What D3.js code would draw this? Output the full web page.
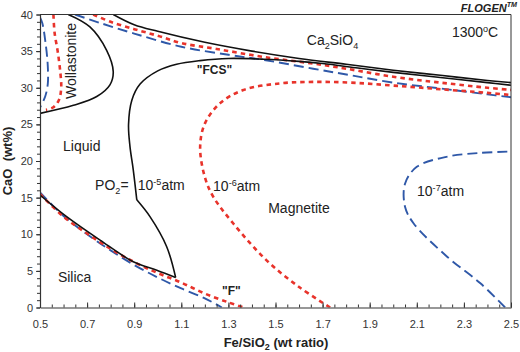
<!DOCTYPE html>
<html><head><meta charset="utf-8">
<script src="https://cdn.jsdelivr.net/npm/d3@7"></script>
<style>
body{margin:0;background:#fff}
text{font-family:"Liberation Sans",Arial,Helvetica,sans-serif}
</style>
</head><body>
<svg id="chart" width="520" height="352"></svg>
<script>
// ---------- data ----------
const xTickValues = [0.5,0.7,0.9,1.1,1.3,1.5,1.7,1.9,2.1,2.3,2.5];
const yTickValues = [0,5,10,15,20,25,30,35,40];

// black solid: PO2 = 1e-5 atm
const wollastoniteBlack = [[0.62,40],[0.712,38.3],[0.783,35.1],[0.811,32.2],[0.797,30.4],[0.741,28.8],[0.642,27.6],[0.5,26.5]];
const ca2sio4Black = [[0.811,40],[0.9,38.6],[1.0,37.7],[1.2,36.2],[1.4,35.0],[1.6,34.0],[1.8,33.2],[2.0,32.4],[2.2,31.7],[2.4,31.0],[2.5,30.7]];
const fcsBlackUpper = [[0.911,14.7],[0.896,18.8],[0.882,22],[0.876,25],[0.89,28.3],[0.925,30.5],[1.0,32.3],[1.08,33.2],[1.18,33.7],[1.3,34.0],[1.45,33.9],[1.6,33.6],[1.7,33.3],[1.85,32.7],[2.0,32.1],[2.2,31.4],[2.4,30.7],[2.5,30.35]];
const fcsBlackLower = [[1.076,4.1],[1.038,8.3],[0.967,12.4],[0.911,14.7]];
const silicaBlack = [[0.5,15.35],[0.613,12.4],[0.755,9.2],[0.896,6.25],[0.996,5.1],[1.076,4.1]];

// red dotted: PO2 = 1e-6 atm
const wollastoniteRed = [[0.557,40],[0.562,37.5],[0.575,35],[0.585,32.5],[0.59,30],[0.58,28.3],[0.555,27.3],[0.525,27.0]];
const ca2sio4Red = [[0.726,40],[0.8,39.0],[0.9,38.0],[1.0,37.1],[1.1,36.1],[1.25,35.3],[1.45,34.2],[1.66,33.3],[1.8,32.6],[2.0,31.5],[2.2,30.7],[2.4,30.0],[2.5,29.7]];
const silicaRed = [[0.5,15.5],[0.6,12.4],[0.7,10.1],[0.8,8.0],[0.9,6.2],[1.0,4.7],[1.1,3.4],[1.2,1.9],[1.3,0.7],[1.365,0]];
const magnetiteRed = [[1.732,0],[1.6,2.8],[1.46,6.5],[1.32,11.5],[1.236,15.1],[1.2,17.8],[1.18,21.9],[1.2,25.1],[1.265,27.9],[1.364,29.7],[1.52,30.6],[1.66,30.8],[1.82,30.7],[2.0,30.3],[2.2,29.8],[2.4,29.3],[2.5,29.0]];

// blue dashed: PO2 = 1e-7 atm
const wollastoniteBlue = [[0.5,39.6],[0.51,38.8],[0.524,36],[0.533,33],[0.533,30.5],[0.522,28.8],[0.5,27.3]];
const ca2sio4Blue = [[0.649,40],[0.75,38.9],[0.9,37.4],[1.1,35.6],[1.3,34.5],[1.45,33.8],[1.66,32.6],[1.82,31.7],[2.0,30.7],[2.2,29.9],[2.4,29.1],[2.5,28.7]];
const silicaBlue = [[0.5,15.7],[0.6,12.5],[0.7,10.0],[0.8,7.8],[0.9,5.8],[1.0,4.1],[1.1,2.6],[1.2,1.25],[1.272,0]];
const magnetiteBlue = [[2.475,0],[2.37,3.3],[2.23,6.9],[2.086,11.5],[2.05,13.75],[2.05,16.9],[2.1,19.2],[2.23,20.6],[2.37,21.1],[2.5,21.3]];

// ---------- chart ----------
const svg = d3.select("#chart");
const x = d3.scaleLinear().domain([0.5,2.5]).range([40,511]);
const y = d3.scaleLinear().domain([0,40]).range([307.5,14.5]);

svg.append("defs").append("clipPath").attr("id","plot")
  .append("rect").attr("x",40).attr("y",14.5).attr("width",471).attr("height",293);

const line = d3.line().x(d=>x(d[0])).y(d=>y(d[1])).curve(d3.curveCatmullRom.alpha(0.5));
const g = svg.append("g").attr("clip-path","url(#plot)");

const styles = {
  black:{stroke:"#111",width:1.6,dash:null},
  red:{stroke:"#e8332b",width:2.6,dash:"4.5,4"},
  blue:{stroke:"#2f58a8",width:1.9,dash:"10,5"}
};
function draw(data, st){
  const s = styles[st];
  g.append("path").datum(data).attr("d",line)
    .attr("fill","none").attr("stroke",s.stroke).attr("stroke-width",s.width)
    .attr("stroke-dasharray",s.dash).attr("stroke-linejoin","round");
}
[wollastoniteBlue, ca2sio4Blue, silicaBlue, magnetiteBlue].forEach(d=>draw(d,"blue"));
[wollastoniteRed, ca2sio4Red, silicaRed, magnetiteRed].forEach(d=>draw(d,"red"));
[wollastoniteBlack, ca2sio4Black, fcsBlackUpper, fcsBlackLower, silicaBlack].forEach(d=>draw(d,"black"));

// frame (top & right)
svg.append("line").attr("x1",40).attr("x2",511).attr("y1",14.5).attr("y2",14.5).attr("stroke","#333").attr("stroke-width",1);
svg.append("line").attr("x1",511).attr("x2",511).attr("y1",14.5).attr("y2",307.5).attr("stroke","#333").attr("stroke-width",1);

// axes
const xMinor = d3.range(0.5,2.5001,0.05);
const yMinor = d3.range(0,40.001,1);
svg.append("g").attr("transform","translate(0,307.5)")
  .call(d3.axisBottom(x).tickValues(xMinor).tickSize(-3).tickFormat(""))
  .call(a=>a.select(".domain").remove())
  .call(a=>a.selectAll("line").attr("stroke","#333"));
const xa = svg.append("g").attr("transform","translate(0,307.5)")
  .call(d3.axisBottom(x).tickValues(xTickValues).tickSizeInner(-5).tickSizeOuter(0).tickPadding(13).tickFormat(d3.format(".1f")));
xa.select(".domain").attr("stroke","#333").attr("stroke-width",1.2);
xa.selectAll("line").attr("stroke","#333");
xa.selectAll("text").attr("font-size",11).attr("fill","#333").attr("font-family","Liberation Sans, Arial, sans-serif");

svg.append("g").attr("transform","translate(40,0)")
  .call(d3.axisLeft(y).tickValues(yMinor).tickSize(3).tickFormat(""))
  .call(a=>a.select(".domain").remove())
  .call(a=>a.selectAll("line").attr("stroke","#333"));
const ya = svg.append("g").attr("transform","translate(40,0)")
  .call(d3.axisLeft(y).tickValues(yTickValues).tickSizeInner(4).tickSizeOuter(0).tickPadding(3).tickFormat(d3.format("d")));
ya.select(".domain").attr("stroke","#333").attr("stroke-width",1.2);
ya.selectAll("line").attr("stroke","#333");
ya.selectAll("text").attr("font-size",11).attr("fill","#333").attr("font-family","Liberation Sans, Arial, sans-serif");

// axis titles
const xt = svg.append("text").attr("x",276).attr("y",347).attr("text-anchor","middle")
  .attr("font-size",13).attr("font-weight","bold").attr("fill","#222");
xt.append("tspan").text("Fe/SiO");
xt.append("tspan").attr("dy",3).attr("font-size",9).text("2");
xt.append("tspan").attr("dy",-3).text(" (wt ratio)");

svg.append("text").attr("transform","translate(12,161) rotate(-90)").attr("text-anchor","middle")
  .attr("font-size",13).attr("font-weight","bold").attr("fill","#222")
  .style("white-space","pre").text("CaO  (wt%)");

// labels
function label(px, py, parts, opts={}){
  const t = svg.append("text").attr("x",px).attr("y",py)
    .attr("font-size",opts.size||14).attr("fill","#222")
    .attr("font-weight",opts.weight||"normal").attr("font-style",opts.style||"normal");
  if(opts.anchor) t.attr("text-anchor",opts.anchor);
  let shift = 0;
  parts.forEach(p=>{
    const s = t.append("tspan");
    let target = p.sup ? -5 : (p.sub ? 4 : 0);
    s.attr("dy", target - shift); shift = target;
    if(p.sup||p.sub) s.attr("font-size",(opts.size||14)*0.65);
    s.text(p.t);
  });
  return t;
}
label(x(0.598), y(21.3), [{t:"Liquid"}]);
label(x(0.576), y(3.5), [{t:"Silica"}]);
label(x(0.734), y(16.0), [{t:"PO"},{t:"2",sub:true},{t:"= "}]);
label(x(0.915), y(16.0), [{t:"10"},{t:"-5",sup:true},{t:"atm"}]);
label(x(1.235), y(15.9), [{t:"10"},{t:"-6",sup:true},{t:"atm"}]);
label(x(1.469), y(12.9), [{t:"Magnetite"}]);
label(x(2.101), y(15.2), [{t:"10"},{t:"-7",sup:true},{t:"atm"}]);
label(x(1.166), y(31.9), [{t:"\"FCS\""}], {size:12, weight:"bold"});
label(x(1.273), y(1.7), [{t:"\"F\""}], {size:12, weight:"bold"});
label(x(1.633), y(35.8), [{t:"Ca"},{t:"2",sub:true},{t:"SiO"},{t:"4",sub:true}]);
label(x(2.249), y(36.9), [{t:"1300"},{t:"o",sup:true},{t:"C"}]);
svg.append("text").attr("transform","translate(76,61) rotate(-90)").attr("text-anchor","middle")
  .attr("font-size",14).attr("fill","#222").text("Wollastonite");
label(517, 12, [{t:"FLOGEN"},{t:"TM",sup:true}], {size:11, weight:"bold", style:"italic", anchor:"end"});
</script>
</body></html>
